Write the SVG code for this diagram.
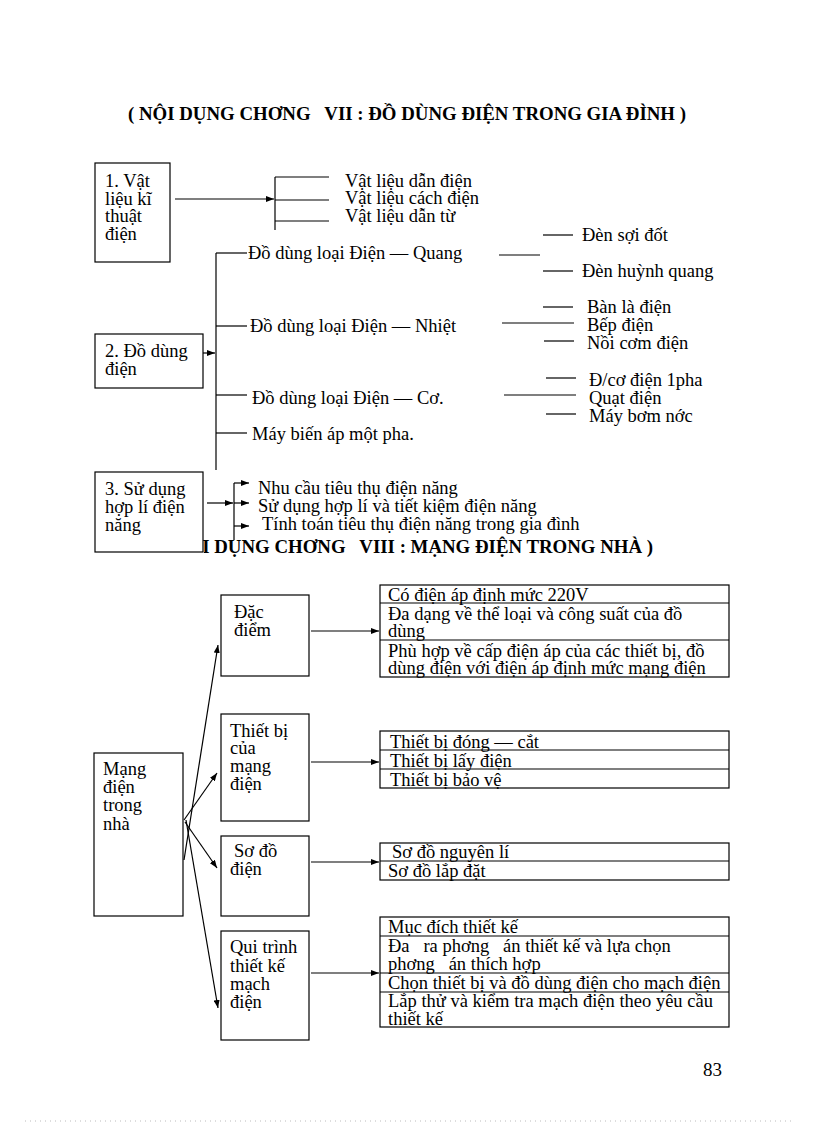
<svg xmlns="http://www.w3.org/2000/svg" width="816" height="1123" viewBox="0 0 816 1123">
<style>
.box{fill:#fff;stroke:#000;stroke-width:1.2}
.ln{stroke:#000;stroke-width:1.2;fill:none}
.ar{stroke:#000;stroke-width:1.2;fill:none;marker-end:url(#ah)}
.t{font-family:"Liberation Serif","Times New Roman",serif;font-size:18.5px;fill:#000;white-space:pre}
.ttl{font-family:"Liberation Serif","Times New Roman",serif;font-size:19px;font-weight:bold;fill:#000;white-space:pre}
.pg{font-family:"Liberation Serif","Times New Roman",serif;font-size:19px;fill:#000}
</style>
<defs>
<marker id="ah" viewBox="0 0 8 6" refX="8" refY="3" markerWidth="8" markerHeight="6" markerUnits="userSpaceOnUse" orient="auto"><path d="M0,0 L8,3 L0,6 z" fill="#000"/></marker>
<clipPath id="clipT2"><rect x="0" y="0" width="204" height="552"/><rect x="204" y="0" width="612" height="1123"/></clipPath>
</defs>
<rect width="816" height="1123" fill="#fff"/>

<g id="title1"><text class="ttl" x="128" y="120" textLength="558" lengthAdjust="spacingAndGlyphs" xml:space="preserve">( NỘI DỤNG CHƠNG   VII : ĐỒ DÙNG ĐIỆN TRONG GIA ĐÌNH )</text></g>
<g id="title2" clip-path="url(#clipT2)"><text class="ttl" x="163" y="553" textLength="490" lengthAdjust="spacingAndGlyphs" xml:space="preserve">( NỘI DỤNG CHƠNG   VIII : MẠNG ĐIỆN TRONG NHÀ )</text></g>

<g id="connectors">
  <line class="ar" x1="175" y1="199" x2="274" y2="199"/>
  <line class="ln" x1="275" y1="177" x2="275" y2="230"/>
  <line class="ln" x1="275" y1="177" x2="329" y2="177"/>
  <line class="ln" x1="275" y1="200" x2="329" y2="200"/>
  <line class="ln" x1="275" y1="221" x2="329" y2="221"/>

  <line class="ar" x1="203" y1="353" x2="215" y2="353"/>
  <line class="ln" x1="216" y1="253" x2="216" y2="470"/>
  <line class="ln" x1="216" y1="253" x2="247" y2="253"/>
  <line class="ln" x1="216" y1="326" x2="247" y2="326"/>
  <line class="ln" x1="216" y1="395" x2="247" y2="395"/>
  <line class="ln" x1="216" y1="433" x2="247" y2="433"/>

  <line class="ln" x1="499" y1="255" x2="540" y2="255"/>
  <line class="ln" x1="543" y1="235" x2="573" y2="235"/>
  <line class="ln" x1="543" y1="271" x2="573" y2="271"/>
  <line class="ln" x1="502" y1="323" x2="574" y2="323"/>
  <line class="ln" x1="543" y1="307" x2="573" y2="307"/>
  <line class="ln" x1="544" y1="341" x2="574" y2="341"/>
  <line class="ln" x1="504" y1="395" x2="576" y2="395"/>
  <line class="ln" x1="546" y1="378" x2="576" y2="378"/>
  <line class="ln" x1="546" y1="414" x2="576" y2="414"/>

  <line class="ar" x1="207" y1="503" x2="233" y2="503"/>
  <line class="ln" x1="234" y1="483" x2="234" y2="540"/>
  <line class="ar" x1="234" y1="483" x2="249" y2="483"/>
  <line class="ar" x1="234" y1="503" x2="249" y2="503"/>
  <line class="ar" x1="234" y1="526" x2="249" y2="526"/>

  <line class="ar" x1="184" y1="860" x2="218" y2="645"/>
  <line class="ar" x1="184" y1="820" x2="217" y2="773"/>
  <line class="ar" x1="185" y1="822" x2="217" y2="868"/>
  <line class="ar" x1="186" y1="820" x2="218" y2="1008"/>
  <line class="ar" x1="311" y1="631" x2="379" y2="631"/>
  <line class="ar" x1="311" y1="762" x2="379" y2="762"/>
  <line class="ar" x1="311" y1="862" x2="379" y2="862"/>
  <line class="ar" x1="311" y1="973" x2="379" y2="973"/>
</g>

<g id="n-box1"><rect class="box" x="95" y="163" width="75" height="99"/>
<text class="t" x="105" y="187">1. Vật</text><text class="t" x="105" y="205">liệu kĩ</text><text class="t" x="105" y="222">thuật</text><text class="t" x="105" y="240">điện</text></g>
<g id="n-vl1"><text class="t" x="345" y="187">Vật liệu dẫn điện</text></g>
<g id="n-vl2"><text class="t" x="345" y="204">Vật liệu cách điện</text></g>
<g id="n-vl3"><text class="t" x="345" y="222">Vật liệu dẫn từ</text></g>

<g id="n-box2"><rect class="box" x="95" y="334" width="108" height="54"/>
<text class="t" x="105" y="357">2. Đồ dùng</text><text class="t" x="105" y="375">điện</text></g>
<g id="n-quang"><text class="t" x="248" y="259">Đồ dùng loại Điện — Quang</text></g>
<g id="n-nhiet"><text class="t" x="250" y="332">Đồ dùng loại Điện — Nhiệt</text></g>
<g id="n-co"><text class="t" x="252" y="404">Đồ dùng loại Điện — Cơ.</text></g>
<g id="n-mba"><text class="t" x="252" y="440">Máy biến áp một pha.</text></g>
<g id="n-q1"><text class="t" x="582" y="241">Đèn sợi đốt</text></g>
<g id="n-q2"><text class="t" x="582" y="277">Đèn huỳnh quang</text></g>
<g id="n-n1"><text class="t" x="587" y="313">Bàn là điện</text></g>
<g id="n-n2"><text class="t" x="587" y="331">Bếp điện</text></g>
<g id="n-n3"><text class="t" x="587" y="349">Nồi cơm điện</text></g>
<g id="n-c1"><text class="t" x="589" y="386">Đ/cơ điện 1pha</text></g>
<g id="n-c2"><text class="t" x="589" y="404">Quạt điện</text></g>
<g id="n-c3"><text class="t" x="589" y="422">Máy bơm nớc</text></g>

<g id="n-s1"><text class="t" x="258" y="494">Nhu cầu tiêu thụ điện năng</text></g>
<g id="n-s2"><text class="t" x="258" y="512">Sử dụng hợp lí và tiết kiệm điện năng</text></g>
<g id="n-s3"><text class="t" x="262" y="530">Tính toán tiêu thụ điện năng trong gia đình</text></g>
<g id="n-box3"><rect class="box" x="95" y="472" width="108" height="80"/>
<text class="t" x="105" y="495">3. Sử dụng</text><text class="t" x="105" y="513">hợp lí điện</text><text class="t" x="105" y="531">năng</text></g>

<g id="n-mang"><rect class="box" x="94" y="753" width="89" height="163"/>
<text class="t" x="103" y="775">Mạng</text><text class="t" x="103" y="793">điện</text><text class="t" x="103" y="811">trong</text><text class="t" x="103" y="830">nhà</text></g>

<g id="n-dacdiem"><rect class="box" x="221" y="595" width="88" height="81"/>
<text class="t" x="234" y="618">Đặc</text><text class="t" x="234" y="636">điểm</text></g>
<g id="n-thietbi"><rect class="box" x="221" y="714" width="88" height="107"/>
<text class="t" x="230" y="737">Thiết bị</text><text class="t" x="230" y="754">của</text><text class="t" x="230" y="772">mạng</text><text class="t" x="230" y="790">điện</text></g>
<g id="n-sodo"><rect class="box" x="221" y="836" width="88" height="80"/>
<text class="t" x="234" y="857">Sơ đồ</text><text class="t" x="230" y="875">điện</text></g>
<g id="n-quitrinh"><rect class="box" x="221" y="931" width="88" height="109"/>
<text class="t" x="230" y="953">Qui trình</text><text class="t" x="230" y="972">thiết kế</text><text class="t" x="230" y="990">mạch</text><text class="t" x="230" y="1008">điện</text></g>

<g id="n-table1"><rect class="box" x="380" y="585" width="349" height="92"/>
<line class="ln" x1="380" y1="603" x2="729" y2="603"/><line class="ln" x1="380" y1="640" x2="729" y2="640"/>
<text class="t" x="388" y="601">Có điện áp định mức 220V</text>
<text class="t" x="388" y="620">Đa dạng về thể loại và công suất của đồ</text>
<text class="t" x="388" y="637">dùng</text>
<text class="t" x="388" y="657">Phù hợp về cấp điện áp của các thiết bị, đồ</text>
<text class="t" x="388" y="674">dùng điện với điện áp định mức mạng điện</text></g>

<g id="n-table2"><rect class="box" x="380" y="731" width="349" height="57"/>
<line class="ln" x1="380" y1="750" x2="729" y2="750"/><line class="ln" x1="380" y1="769" x2="729" y2="769"/>
<text class="t" x="390" y="748">Thiết bị đóng — cắt</text>
<text class="t" x="390" y="767">Thiết bị lấy điện</text>
<text class="t" x="390" y="786">Thiết bị bảo vệ</text></g>

<g id="n-table3"><rect class="box" x="380" y="843" width="349" height="37"/>
<line class="ln" x1="380" y1="861" x2="729" y2="861"/>
<text class="t" x="392" y="858">Sơ đồ nguyên lí</text>
<text class="t" x="388" y="877">Sơ đồ lắp đặt</text></g>

<g id="n-table4"><rect class="box" x="380" y="917" width="349" height="110"/>
<line class="ln" x1="380" y1="936" x2="729" y2="936"/><line class="ln" x1="380" y1="973" x2="729" y2="973"/><line class="ln" x1="380" y1="992" x2="729" y2="992"/>
<text class="t" x="388" y="933">Mục đích thiết kế</text>
<text class="t" x="388" y="952" xml:space="preserve">Đa   ra phơng   án thiết kế và lựa chọn</text>
<text class="t" x="388" y="970" xml:space="preserve">phơng   án thích hợp</text>
<text class="t" x="388" y="989">Chọn thiết bị và đồ dùng điện cho mạch điện</text>
<text class="t" x="388" y="1007">Lắp thử và kiểm tra mạch điện theo yêu cầu</text>
<text class="t" x="388" y="1025">thiết kế</text></g>

<g id="page"><text class="pg" x="703" y="1076">83</text>
<line x1="25" y1="1121" x2="795" y2="1121" stroke="#bbb" stroke-width="1" stroke-dasharray="1,4"/></g>
</svg>
